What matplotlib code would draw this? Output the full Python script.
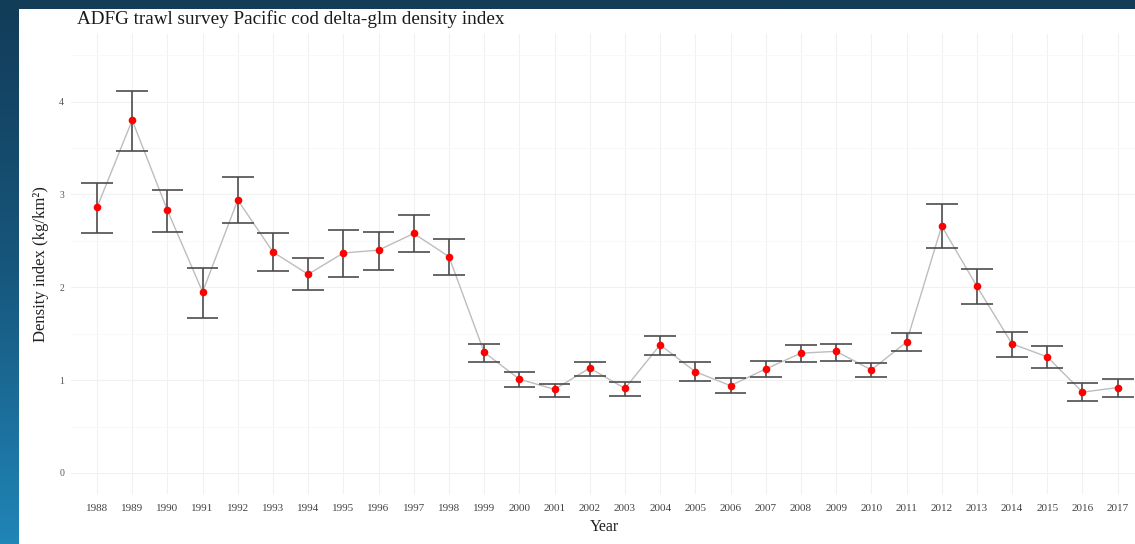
import numpy as np
import matplotlib
matplotlib.use("Agg")
import matplotlib.pyplot as plt
from matplotlib.colors import LinearSegmentedColormap
from matplotlib.patches import Rectangle

# Survey years and delta-GLM density index with interval bounds
years = [1988, 1989, 1990, 1991, 1992, 1993, 1994, 1995, 1996, 1997,
         1998, 1999, 2000, 2001, 2002, 2003, 2004, 2005, 2006, 2007,
         2008, 2009, 2010, 2011, 2012, 2013, 2014, 2015, 2016, 2017]
index = [2.86, 3.80, 2.83, 1.95, 2.94, 2.38, 2.14, 2.37, 2.40, 2.58,
         2.33, 1.30, 1.01, 0.90, 1.13, 0.91, 1.38, 1.09, 0.94, 1.12,
         1.29, 1.31, 1.11, 1.41, 2.66, 2.01, 1.39, 1.25, 0.87, 0.92]
upper = [3.12, 4.12, 3.05, 2.21, 3.19, 2.58, 2.32, 2.62, 2.60, 2.78,
         2.52, 1.39, 1.09, 0.96, 1.20, 0.98, 1.47, 1.19, 1.02, 1.21,
         1.38, 1.39, 1.18, 1.51, 2.90, 2.20, 1.52, 1.37, 0.97, 1.01]
lower = [2.59, 3.47, 2.60, 1.67, 2.69, 2.18, 1.97, 2.11, 2.19, 2.38,
         2.13, 1.20, 0.93, 0.82, 1.04, 0.83, 1.27, 0.99, 0.86, 1.03,
         1.20, 1.21, 1.03, 1.31, 2.42, 1.82, 1.25, 1.13, 0.77, 0.82]
y_ticks = [0, 1, 2, 3, 4]

serif = ["Liberation Serif", "DejaVu Serif"]
W, H = 1135, 544
fig = plt.figure(figsize=(W / 100, H / 100), dpi=100)

# Slide-style blue gradient backdrop with a white panel
bg = fig.add_axes([0, 0, 1, 1], zorder=-10)
bg.set_axis_off()
grad = np.linspace(0, 1, 256).reshape(-1, 1)
cmap = LinearSegmentedColormap.from_list("slide", ["#123c58", "#17577d", "#2085b7"])
bg.imshow(grad, aspect="auto", cmap=cmap, extent=[0, 1, 0, 1], origin="upper")
bg.add_patch(Rectangle((19 / W, 0), 1, 1 - 9 / H, facecolor="white",
                       edgecolor="none", transform=bg.transAxes))
bg.set_xlim(0, 1)
bg.set_ylim(0, 1)

x = np.arange(len(years))
left_px, right_px = 71.0, 1138.8
x_lo = -(97.0 - left_px) / 35.2
ax = fig.add_axes([left_px / W, 0.0923, (right_px - left_px) / W, 0.9368 - 0.0923])
ax.set_facecolor("none")
ax.set_xlim(x_lo, len(years) - 1 + 0.6)
ax.set_ylim(-0.225, 4.725)

# Grid: majors at units and every year, minors at half units
ax.set_yticks(y_ticks)
ax.set_yticks(np.arange(0.5, 4.6, 1.0), minor=True)
ax.set_xticks(x)
ax.set_xticklabels([str(yr) for yr in years])
ax.grid(which="major", color="#f1f1f1", linewidth=0.8)
ax.grid(which="minor", axis="y", color="#f7f7f7", linewidth=0.6)
ax.set_axisbelow(True)
for s in ax.spines.values():
    s.set_visible(False)
ax.tick_params(which="both", length=0)
ax.tick_params(axis="y", pad=5, labelsize=7, labelcolor="#555555")
ax.tick_params(axis="x", pad=7, labelsize=8, labelcolor="#444444")
for lab in ax.get_xticklabels() + ax.get_yticklabels():
    lab.set_fontfamily(serif)

# Connecting line, interval bars with caps, and point estimates
ax.plot(x, index, color="#bdbdbd", linewidth=1.0, zorder=2)
ax.vlines(x, lower, upper, color="#4d4d4d", linewidth=1.2, zorder=3)
ax.hlines(upper, x - 0.45, x + 0.45, color="#4d4d4d", linewidth=1.2, zorder=3)
ax.hlines(lower, x - 0.45, x + 0.45, color="#4d4d4d", linewidth=1.2, zorder=3)
ax.plot(x, index, linestyle="none", marker="o", markersize=5.5,
        color="#ff0000", markeredgewidth=0, zorder=4)

ax.set_xlabel("Year", fontsize=11.5, family=serif, color="#222222", labelpad=5)
ax.set_ylabel("Density index (kg/km²)", fontsize=12, family=serif,
              color="#222222", labelpad=7.5)

fig.text(77 / W, 1 - 24 / H, "ADFG trawl survey Pacific cod delta-glm density index",
         fontsize=13.8, family=serif, color="#1a1a1a", ha="left", va="baseline")

fig.savefig("out.png", dpi=100)
